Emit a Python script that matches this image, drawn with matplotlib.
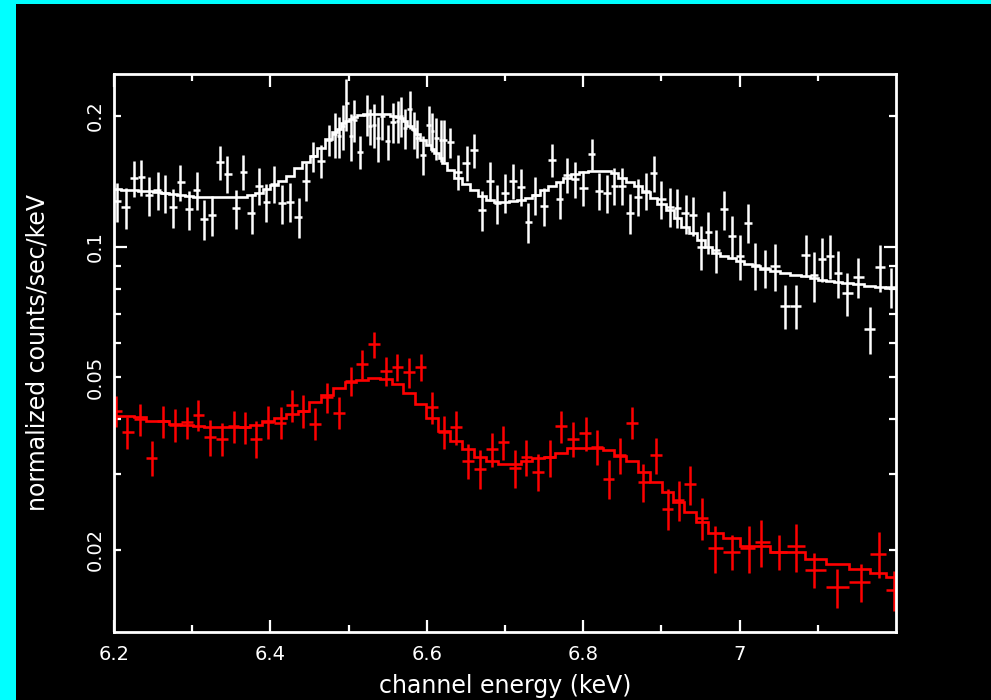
import numpy as np
import matplotlib
matplotlib.use("Agg")
import matplotlib.pyplot as plt
from matplotlib.patches import Rectangle
from matplotlib.ticker import FixedLocator, FuncFormatter

# first spectrum (white): channel energy, flux, 1-sigma error, folded model
white_e = [6.204, 6.215, 6.226, 6.235, 6.245, 6.256, 6.265, 6.275, 6.285, 6.296,
           6.306, 6.315, 6.325, 6.336, 6.345, 6.356, 6.365, 6.376, 6.385, 6.395,
           6.405, 6.415, 6.425, 6.436, 6.446, 6.455, 6.465, 6.475, 6.482, 6.488,
           6.493, 6.497, 6.503, 6.507, 6.514, 6.523, 6.527, 6.532, 6.537, 6.543,
           6.550, 6.557, 6.563, 6.567, 6.572, 6.578, 6.583, 6.587, 6.595, 6.603,
           6.607, 6.612, 6.618, 6.622, 6.630, 6.640, 6.651, 6.660, 6.670, 6.681,
           6.690, 6.700, 6.710, 6.720, 6.730, 6.739, 6.750, 6.760, 6.770, 6.779,
           6.790, 6.800, 6.811, 6.820, 6.830, 6.840, 6.850, 6.860, 6.870, 6.880,
           6.890, 6.900, 6.911, 6.920, 6.931, 6.940, 6.951, 6.960, 6.970, 6.980,
           6.990, 7.000, 7.011, 7.020, 7.033, 7.045, 7.058, 7.072, 7.085, 7.095,
           7.106, 7.115, 7.126, 7.137, 7.152, 7.167, 7.180, 7.193]
white_v = [0.1271, 0.1231, 0.1437, 0.1445, 0.1313, 0.1350, 0.1327, 0.1231, 0.1406, 0.1218,
           0.1350, 0.1157, 0.1182, 0.1565, 0.1470, 0.1224, 0.1489, 0.1197, 0.1379, 0.1269,
           0.1394, 0.1258, 0.1269, 0.1172, 0.1416, 0.1613, 0.1576, 0.1762, 0.1816, 0.1794,
           0.1893, 0.2143, 0.1794, 0.1960, 0.1653, 0.2014, 0.1893, 0.1909, 0.1778, 0.1996,
           0.1747, 0.1934, 0.1950, 0.1996, 0.1875, 0.2076, 0.1858, 0.1778, 0.1627, 0.1909,
           0.1843, 0.1778, 0.1762, 0.1762, 0.1741, 0.1489, 0.1562, 0.1666, 0.1213, 0.1419,
           0.1258, 0.1331, 0.1419, 0.1375, 0.1141, 0.1315, 0.1240, 0.1584, 0.1285, 0.1462,
           0.1429, 0.1367, 0.1636, 0.1346, 0.1327, 0.1379, 0.1379, 0.1197, 0.1303, 0.1346,
           0.1476, 0.1285, 0.1236, 0.1229, 0.1192, 0.1180, 0.0998, 0.1081, 0.0980, 0.1218,
           0.1056, 0.0952, 0.1135, 0.0905, 0.0893, 0.0902, 0.0731, 0.0731, 0.0955, 0.0858,
           0.0938, 0.0952, 0.0871, 0.0781, 0.0851, 0.0646, 0.0897, 0.0807]
white_err = [0.0130, 0.0131, 0.0134, 0.0139, 0.0134, 0.0135, 0.0133, 0.0128, 0.0133, 0.0128,
             0.0133, 0.0123, 0.0126, 0.0142, 0.0143, 0.0126, 0.0139, 0.0126, 0.0135, 0.0127,
             0.0136, 0.0129, 0.0130, 0.0125, 0.0141, 0.0125, 0.0140, 0.0148, 0.0213, 0.0191,
             0.0222, 0.0295, 0.0223, 0.0217, 0.0147, 0.0215, 0.0177, 0.0221, 0.0208, 0.0239,
             0.0163, 0.0206, 0.0216, 0.0210, 0.0200, 0.0208, 0.0181, 0.0182, 0.0167, 0.0195,
             0.0189, 0.0197, 0.0195, 0.0195, 0.0139, 0.0139, 0.0146, 0.0148, 0.0129, 0.0145,
             0.0129, 0.0136, 0.0132, 0.0132, 0.0122, 0.0132, 0.0127, 0.0137, 0.0125, 0.0134,
             0.0137, 0.0128, 0.0138, 0.0131, 0.0132, 0.0135, 0.0135, 0.0126, 0.0127, 0.0131,
             0.0138, 0.0129, 0.0126, 0.0128, 0.0122, 0.0121, 0.0115, 0.0120, 0.0113, 0.0125,
             0.0118, 0.0114, 0.0118, 0.0112, 0.0091, 0.0111, 0.0086, 0.0086, 0.0106, 0.0111,
             0.0110, 0.0112, 0.0108, 0.0089, 0.0088, 0.0080, 0.0113, 0.0087]
white_model = [0.1355, 0.1351, 0.1348, 0.1344, 0.1341, 0.1334, 0.1327, 0.1320, 0.1313, 0.1305,
               0.1302, 0.1298, 0.1298, 0.1298, 0.1298, 0.1298, 0.1302, 0.1313, 0.1327, 0.1355,
               0.1384, 0.1414, 0.1452, 0.1516, 0.1565, 0.1616, 0.1686, 0.1769, 0.1836, 0.1866,
               0.1926, 0.1947, 0.1968, 0.1989, 0.2011, 0.2021, 0.2021, 0.2021, 0.2021, 0.2021,
               0.2021, 0.2000, 0.1989, 0.1979, 0.1947, 0.1896, 0.1866, 0.1816, 0.1759, 0.1713,
               0.1677, 0.1641, 0.1598, 0.1556, 0.1500, 0.1437, 0.1392, 0.1348, 0.1305, 0.1278,
               0.1264, 0.1264, 0.1271, 0.1278, 0.1292, 0.1313, 0.1348, 0.1377, 0.1406, 0.1437,
               0.1468, 0.1483, 0.1491, 0.1491, 0.1491, 0.1476, 0.1437, 0.1406, 0.1377, 0.1334,
               0.1292, 0.1251, 0.1212, 0.1161, 0.1112, 0.1072, 0.1033, 0.1000, 0.0968, 0.0953,
               0.0943, 0.0928, 0.0913, 0.0904, 0.0889, 0.0880, 0.0871, 0.0861, 0.0857, 0.0848,
               0.0839, 0.0834, 0.0830, 0.0826, 0.0821, 0.0812, 0.0808, 0.0804]

# second spectrum (red)
red_e = [6.203, 6.217, 6.233, 6.248, 6.263, 6.278, 6.293, 6.308, 6.323, 6.338,
         6.353, 6.367, 6.382, 6.397, 6.413, 6.428, 6.442, 6.457, 6.472, 6.488,
         6.503, 6.517, 6.532, 6.548, 6.562, 6.577, 6.592, 6.607, 6.622, 6.637,
         6.653, 6.668, 6.683, 6.698, 6.713, 6.727, 6.742, 6.757, 6.772, 6.787,
         6.803, 6.818, 6.833, 6.847, 6.863, 6.877, 6.893, 6.908, 6.922, 6.937,
         6.952, 6.968, 6.990, 7.012, 7.028, 7.050, 7.072, 7.095, 7.125, 7.155,
         7.178, 7.197]
red_v = [0.0418, 0.0373, 0.0400, 0.0326, 0.0396, 0.0389, 0.0394, 0.0409, 0.0364, 0.0361,
         0.0386, 0.0383, 0.0361, 0.0395, 0.0393, 0.0431, 0.0418, 0.0391, 0.0450, 0.0414,
         0.0490, 0.0536, 0.0596, 0.0517, 0.0528, 0.0513, 0.0528, 0.0426, 0.0374, 0.0383,
         0.0321, 0.0308, 0.0341, 0.0355, 0.0309, 0.0327, 0.0303, 0.0327, 0.0386, 0.0361,
         0.0371, 0.0346, 0.0292, 0.0331, 0.0393, 0.0287, 0.0331, 0.0249, 0.0261, 0.0283,
         0.0237, 0.0202, 0.0198, 0.0202, 0.0209, 0.0198, 0.0204, 0.0180, 0.0164, 0.0169,
         0.0196, 0.0162]
red_err = [0.0035, 0.0031, 0.0034, 0.0030, 0.0034, 0.0034, 0.0034, 0.0033, 0.0035, 0.0032,
           0.0033, 0.0033, 0.0035, 0.0034, 0.0033, 0.0037, 0.0037, 0.0033, 0.0036, 0.0035,
           0.0038, 0.0041, 0.0041, 0.0039, 0.0039, 0.0041, 0.0039, 0.0036, 0.0033, 0.0034,
           0.0030, 0.0031, 0.0031, 0.0032, 0.0031, 0.0031, 0.0030, 0.0032, 0.0033, 0.0033,
           0.0033, 0.0032, 0.0030, 0.0032, 0.0033, 0.0029, 0.0032, 0.0027, 0.0028, 0.0029,
           0.0026, 0.0025, 0.0018, 0.0025, 0.0026, 0.0018, 0.0026, 0.0017, 0.0017, 0.0017,
           0.0024, 0.0017]
red_model = [0.0407, 0.0407, 0.0404, 0.0396, 0.0396, 0.0391, 0.0389, 0.0387, 0.0384, 0.0384,
             0.0384, 0.0384, 0.0389, 0.0396, 0.0402, 0.0411, 0.0418, 0.0438, 0.0454, 0.0472,
             0.0487, 0.0492, 0.0498, 0.0495, 0.0482, 0.0459, 0.0433, 0.0402, 0.0375, 0.0357,
             0.0341, 0.0328, 0.0320, 0.0316, 0.0316, 0.0320, 0.0325, 0.0327, 0.0335, 0.0344,
             0.0344, 0.0344, 0.0339, 0.0330, 0.0321, 0.0303, 0.0287, 0.0272, 0.0258, 0.0245,
             0.0232, 0.0219, 0.0213, 0.0204, 0.0204, 0.0198, 0.0198, 0.0191, 0.0186, 0.0181,
             0.0177, 0.0173]


def bin_edges(c):
    c = np.asarray(c)
    mids = (c[1:] + c[:-1]) / 2
    return np.concatenate([[2 * c[0] - mids[0]], mids, [2 * c[-1] - mids[-1]]])


def draw_spectrum(ax, e, v, err, model, color):
    e = np.asarray(e)
    edges = bin_edges(e)
    xerr = [e - edges[:-1], edges[1:] - e]
    ax.errorbar(e, v, yerr=err, xerr=xerr, fmt='none', ecolor=color,
                elinewidth=1.8, capsize=0)
    ax.stairs(model, edges, color=color, lw=1.9, baseline=None)


fig = plt.figure(figsize=(9.91, 7.0), dpi=100, facecolor='#00ffff')
fig.add_artist(Rectangle((16 / 991, 0), 1 - 16 / 991, 1 - 4 / 700,
                         transform=fig.transFigure, facecolor='black',
                         edgecolor='none', zorder=0))
ax = fig.add_axes([114 / 991, 1 - 632 / 700, 782 / 991, 558 / 700])
ax.set_facecolor('black')

draw_spectrum(ax, white_e, white_v, white_err, white_model, 'white')
draw_spectrum(ax, red_e, red_v, red_err, red_model, '#ff0000')

ax.set_xlim(6.2, 7.2)
ax.set_yscale('log')
ax.set_ylim(0.01294, 0.2498)

ax.xaxis.set_major_locator(FixedLocator([6.2, 6.4, 6.6, 6.8, 7.0]))
ax.xaxis.set_minor_locator(FixedLocator([6.3, 6.5, 6.7, 6.9, 7.1]))
ax.xaxis.set_major_formatter(FuncFormatter(lambda x, p: '%g' % x))

ax.yaxis.set_major_locator(FixedLocator([0.1]))
ax.yaxis.set_minor_locator(FixedLocator([0.02, 0.03, 0.04, 0.05, 0.06, 0.07,
                                         0.08, 0.09, 0.2]))
ax.yaxis.set_major_formatter(FuncFormatter(lambda y, p: '%g' % y))
ax.yaxis.set_minor_formatter(FuncFormatter(
    lambda y, p: ('%g' % y) if round(y, 3) in (0.02, 0.05, 0.2) else ''))

ax.tick_params(which='both', direction='in', top=True, right=True,
               color='white', width=1.6, labelcolor='white', labelsize=14)
ax.tick_params(which='major', length=9)
ax.tick_params(which='minor', length=5)
ax.tick_params(axis='x', which='both', pad=9)
ax.tick_params(axis='y', which='both', labelrotation=90, pad=7)
for lab in ax.get_yticklabels(which='both'):
    lab.set_va('center')

for s in ax.spines.values():
    s.set_color('white')
    s.set_linewidth(2.0)

ax.set_xlabel('channel energy (keV)', color='white', fontsize=17, va='center')
ax.set_ylabel('normalized counts/sec/keV', color='white', fontsize=17, va='center')
ax.xaxis.set_label_coords(0.5, (632 - 686) / 558)
ax.yaxis.set_label_coords((38 - 114) / 782, 0.5)

fig.savefig('out.png', dpi=100, facecolor=fig.get_facecolor())
